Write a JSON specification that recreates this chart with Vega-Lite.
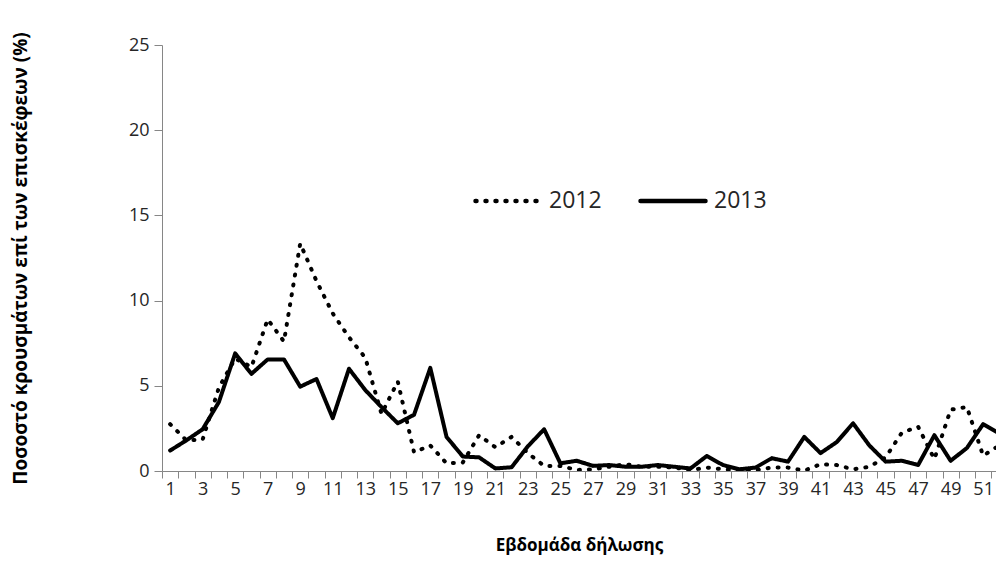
{
  "$schema": "https://vega.github.io/schema/vega-lite/v6.json",
  "width": 834,
  "height": 426,
  "autosize": {"type": "none"},
  "padding": {"left": 162, "top": 45, "right": 0, "bottom": 108},
  "background": "white",
  "config": {
    "view": {"stroke": null},
    "font": "Open Sans",
    "axis": {
      "grid": false,
      "domainColor": "#868686",
      "domainWidth": 1,
      "tickColor": "#868686",
      "labelColor": "#262626",
      "labelFontSize": 18,
      "labelFont": "Open Sans",
      "titleFont": "Open Sans",
      "titleColor": "#000000",
      "titleFontWeight": "bold",
      "titleFontSize": 17
    }
  },
  "data": {
    "values": [
      {"week": 1, "year": "2012", "value": 2.75},
      {"week": 2, "year": "2012", "value": 1.8},
      {"week": 3, "year": "2012", "value": 1.85},
      {"week": 4, "year": "2012", "value": 4.9},
      {"week": 5, "year": "2012", "value": 6.6},
      {"week": 6, "year": "2012", "value": 6.1},
      {"week": 7, "year": "2012", "value": 8.9},
      {"week": 8, "year": "2012", "value": 7.6},
      {"week": 9, "year": "2012", "value": 13.35},
      {"week": 10, "year": "2012", "value": 11.15},
      {"week": 11, "year": "2012", "value": 9.25},
      {"week": 12, "year": "2012", "value": 7.85},
      {"week": 13, "year": "2012", "value": 6.65},
      {"week": 14, "year": "2012", "value": 3.35},
      {"week": 15, "year": "2012", "value": 5.25},
      {"week": 16, "year": "2012", "value": 1.1},
      {"week": 17, "year": "2012", "value": 1.5},
      {"week": 18, "year": "2012", "value": 0.45},
      {"week": 19, "year": "2012", "value": 0.5},
      {"week": 20, "year": "2012", "value": 2.1},
      {"week": 21, "year": "2012", "value": 1.4},
      {"week": 22, "year": "2012", "value": 2.0},
      {"week": 23, "year": "2012", "value": 1.05},
      {"week": 24, "year": "2012", "value": 0.3},
      {"week": 25, "year": "2012", "value": 0.3},
      {"week": 26, "year": "2012", "value": 0.06},
      {"week": 27, "year": "2012", "value": 0.1},
      {"week": 28, "year": "2012", "value": 0.25},
      {"week": 29, "year": "2012", "value": 0.4},
      {"week": 30, "year": "2012", "value": 0.25},
      {"week": 31, "year": "2012", "value": 0.25},
      {"week": 32, "year": "2012", "value": 0.2},
      {"week": 33, "year": "2012", "value": 0.06},
      {"week": 34, "year": "2012", "value": 0.2},
      {"week": 35, "year": "2012", "value": 0.1},
      {"week": 36, "year": "2012", "value": 0.05},
      {"week": 37, "year": "2012", "value": 0.05},
      {"week": 38, "year": "2012", "value": 0.2},
      {"week": 39, "year": "2012", "value": 0.2},
      {"week": 40, "year": "2012", "value": 0.02},
      {"week": 41, "year": "2012", "value": 0.4},
      {"week": 42, "year": "2012", "value": 0.35},
      {"week": 43, "year": "2012", "value": 0.1},
      {"week": 44, "year": "2012", "value": 0.25},
      {"week": 45, "year": "2012", "value": 0.8},
      {"week": 46, "year": "2012", "value": 2.25},
      {"week": 47, "year": "2012", "value": 2.6},
      {"week": 48, "year": "2012", "value": 0.7},
      {"week": 49, "year": "2012", "value": 3.6},
      {"week": 50, "year": "2012", "value": 3.75},
      {"week": 51, "year": "2012", "value": 0.9},
      {"week": 52, "year": "2012", "value": 1.5},
      {"week": 1, "year": "2013", "value": 1.2},
      {"week": 2, "year": "2013", "value": 1.8},
      {"week": 3, "year": "2013", "value": 2.45},
      {"week": 4, "year": "2013", "value": 4.05},
      {"week": 5, "year": "2013", "value": 6.9},
      {"week": 6, "year": "2013", "value": 5.7},
      {"week": 7, "year": "2013", "value": 6.55},
      {"week": 8, "year": "2013", "value": 6.55},
      {"week": 9, "year": "2013", "value": 4.95},
      {"week": 10, "year": "2013", "value": 5.4},
      {"week": 11, "year": "2013", "value": 3.1},
      {"week": 12, "year": "2013", "value": 6.0},
      {"week": 13, "year": "2013", "value": 4.75},
      {"week": 14, "year": "2013", "value": 3.75},
      {"week": 15, "year": "2013", "value": 2.8},
      {"week": 16, "year": "2013", "value": 3.3},
      {"week": 17, "year": "2013", "value": 6.05},
      {"week": 18, "year": "2013", "value": 2.0},
      {"week": 19, "year": "2013", "value": 0.85},
      {"week": 20, "year": "2013", "value": 0.8},
      {"week": 21, "year": "2013", "value": 0.15},
      {"week": 22, "year": "2013", "value": 0.22},
      {"week": 23, "year": "2013", "value": 1.45},
      {"week": 24, "year": "2013", "value": 2.45},
      {"week": 25, "year": "2013", "value": 0.45},
      {"week": 26, "year": "2013", "value": 0.6},
      {"week": 27, "year": "2013", "value": 0.3},
      {"week": 28, "year": "2013", "value": 0.35},
      {"week": 29, "year": "2013", "value": 0.25},
      {"week": 30, "year": "2013", "value": 0.25},
      {"week": 31, "year": "2013", "value": 0.35},
      {"week": 32, "year": "2013", "value": 0.25},
      {"week": 33, "year": "2013", "value": 0.15},
      {"week": 34, "year": "2013", "value": 0.88},
      {"week": 35, "year": "2013", "value": 0.35},
      {"week": 36, "year": "2013", "value": 0.1},
      {"week": 37, "year": "2013", "value": 0.2},
      {"week": 38, "year": "2013", "value": 0.75},
      {"week": 39, "year": "2013", "value": 0.55},
      {"week": 40, "year": "2013", "value": 2.0},
      {"week": 41, "year": "2013", "value": 1.05},
      {"week": 42, "year": "2013", "value": 1.7},
      {"week": 43, "year": "2013", "value": 2.8},
      {"week": 44, "year": "2013", "value": 1.5},
      {"week": 45, "year": "2013", "value": 0.55},
      {"week": 46, "year": "2013", "value": 0.6},
      {"week": 47, "year": "2013", "value": 0.35},
      {"week": 48, "year": "2013", "value": 2.1},
      {"week": 49, "year": "2013", "value": 0.6},
      {"week": 50, "year": "2013", "value": 1.35},
      {"week": 51, "year": "2013", "value": 2.75},
      {"week": 52, "year": "2013", "value": 2.2}
    ]
  },
  "layer": [
    {
      "mark": {"type": "point", "opacity": 0, "clip": true},
      "encoding": {
        "x": {
          "field": "week",
          "type": "quantitative",
          "scale": {"domain": [0.5, 51.79], "nice": false, "zero": false},
          "axis": {
            "orient": "bottom",
            "values": [0.5, 1.5, 2.5, 3.5, 4.5, 5.5, 6.5, 7.5, 8.5, 9.5, 10.5, 11.5, 12.5, 13.5, 14.5, 15.5, 16.5, 17.5, 18.5, 19.5, 20.5, 21.5, 22.5, 23.5, 24.5, 25.5, 26.5, 27.5, 28.5, 29.5, 30.5, 31.5, 32.5, 33.5, 34.5, 35.5, 36.5, 37.5, 38.5, 39.5, 40.5, 41.5, 42.5, 43.5, 44.5, 45.5, 46.5, 47.5, 48.5, 49.5, 50.5, 51.5],
            "labels": false,
            "tickSize": 7,
            "domain": true,
            "title": null
          }
        },
        "y": {
          "field": "value",
          "type": "quantitative",
          "scale": {"domain": [0, 25], "nice": false},
          "axis": {
            "values": [0, 5, 10, 15, 20, 25],
            "tickSize": 8,
            "labelPadding": 5,
            "title": "Ποσοστό κρουσμάτων επί των επισκέφεων (%)",
            "titleFontSize": 19,
            "titleX": -142,
            "titleBaseline": "middle",
            "titleAngle": -90
          }
        }
      }
    },
    {
      "mark": {"type": "line", "clip": true, "strokeWidth": 4, "color": "#000000", "strokeCap": "round", "strokeJoin": "round"},
      "encoding": {
        "x": {
          "field": "week",
          "type": "quantitative",
          "axis": {
            "orient": "bottom",
            "values": [1, 3, 5, 7, 9, 11, 13, 15, 17, 19, 21, 23, 25, 27, 29, 31, 33, 35, 37, 39, 41, 43, 45, 47, 49, 51],
            "ticks": false,
            "tickSize": 0,
            "domain": false,
            "labelPadding": 9,
            "labelFlush": false,
            "labelOverlap": false,
            "title": "Εβδομάδα δήλωσης",
            "titleY": 74,
            "titleBaseline": "middle"
          }
        },
        "y": {"field": "value", "type": "quantitative"},
        "strokeDash": {
          "field": "year",
          "type": "nominal",
          "scale": {"domain": ["2012", "2013"], "range": [[1, 9], [1, 0]]},
          "legend": {
            "orient": "none",
            "direction": "horizontal",
            "legendX": 311,
            "legendY": 121,
            "title": null,
            "symbolType": "stroke",
            "symbolSize": 4225,
            "symbolStrokeWidth": 4.5,
            "symbolStrokeColor": "#000000",
            "labelFontSize": 23,
            "labelFont": "Open Sans",
            "labelColor": "#262626",
            "labelOffset": 6,
            "columnPadding": 29,
            "encode": {"symbols": {"update": {"strokeCap": {"value": "round"}}}}
          }
        }
      }
    }
  ],
  "resolve": {"axis": {"x": "independent"}}
}
